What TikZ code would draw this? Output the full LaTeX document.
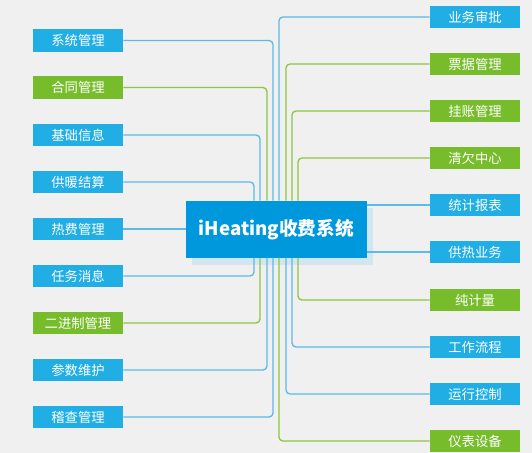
\documentclass[tikz,border=0pt]{standalone}
\usepackage{fontspec}
\setmainfont{Noto Sans CJK SC}
\usetikzlibrary{shadows}
\definecolor{bgc}{HTML}{F0F0F0}
\definecolor{boxb}{HTML}{20AEE5}
\definecolor{boxg}{HTML}{76BC2B}
\definecolor{lineb}{HTML}{5BBAE6}
\definecolor{lineg}{HTML}{8DC63F}
\definecolor{hubc}{HTML}{0098DC}
\definecolor{shadc}{HTML}{D2E6EF}
\tikzset{
	mod/.style={minimum width=67.5pt, minimum height=17pt, inner sep=0pt, text=white, font=\fontsize{10}{12}\selectfont},
	bmod/.style={mod, fill=boxb},
	gmod/.style={mod, fill=boxg},
	bl/.style={draw=lineb, line width=1pt, rounded corners=3pt},
	gl/.style={draw=lineg, line width=1pt, rounded corners=3pt},
}
\begin{document}
\begin{tikzpicture}[x=0.75pt, y=-0.75pt]
		\fill[bgc] (0,0) rectangle (532,453);
		\useasboundingbox (0,0) rectangle (532,453);

		\node[fill=hubc, text=white, minimum width=135.5pt, minimum height=42.5pt, font=\fontsize{14}{16}\bfseries,
			drop shadow={fill=shadc, opacity=1, shadow xshift=4.5pt, shadow yshift=-5.5pt}] (hub) at (276.3,229.3) {iHeating收费系统};

		\node[bmod] (xtgl) at (78,40.5) {系统管理};
		\node[gmod] (htgl) at (78,87.5) {合同管理};
		\node[bmod] (jcxx) at (78,135) {基础信息};
		\node[bmod] (gnjs) at (78,182) {供暖结算};
		\node[bmod] (rfgl) at (78,229) {热费管理};
		\node[bmod] (rwxx) at (78,276) {任务消息};
		\node[gmod] (ejzgl) at (78,323) {二进制管理};
		\node[bmod] (cswh) at (78,370) {参数维护};
		\node[bmod] (jcgl) at (78,417) {稽查管理};

		\node[bmod] (ywsp) at (475,17) {业务审批};
		\node[gmod] (pjgl) at (475,64) {票据管理};
		\node[gmod] (gzgl) at (475,111) {挂账管理};
		\node[gmod] (qqzx) at (475,158) {清欠中心};
		\node[bmod] (tjbb) at (475,205) {统计报表};
		\node[bmod] (gryw) at (475,252) {供热业务};
		\node[gmod] (cjl) at (475,300) {纯计量};
		\node[bmod] (gzlc) at (475,347) {工作流程};
		\node[bmod] (yxkz) at (475,394) {运行控制};
		\node[gmod] (ybsb) at (475,441) {仪表设备};

		\coordinate (c1) at (254,0);
		\coordinate (c2) at (260,0);
		\coordinate (c3) at (267,0);
		\coordinate (c4) at (273,0);
		\coordinate (c5) at (279,0);
		\coordinate (c6) at (286,0);
		\coordinate (c7) at (292,0);
		\coordinate (c8) at (298,0);

		\draw[bl] (xtgl.east) -| (c4 |- hub.north);
		\draw[gl] (htgl.east) -| (c3 |- hub.north);
		\draw[bl] (jcxx.east) -| (c2 |- hub.north);
		\draw[bl] (gnjs.east) -| (c1 |- hub.north);
		\draw[bl] (rfgl.east) -- (rfgl.east -| hub.west);
		\draw[bl] (rwxx.east) -| (c1 |- hub.south);
		\draw[gl] (ejzgl.east) -| (c2 |- hub.south);
		\draw[bl] (cswh.east) -| (c3 |- hub.south);
		\draw[bl] (jcgl.east) -| (c4 |- hub.south);

		\draw[bl] (ywsp.west) -| (c5 |- hub.north);
		\draw[gl] (pjgl.west) -| (c6 |- hub.north);
		\draw[gl] (gzgl.west) -| (c7 |- hub.north);
		\draw[gl] (qqzx.west) -| (c8 |- hub.north);
		\draw[bl] (tjbb.west) -- (tjbb.west -| hub.east);
		\draw[bl] (gryw.west) -- (gryw.west -| hub.east);
		\draw[gl] (cjl.west) -| (c8 |- hub.south);
		\draw[bl] (gzlc.west) -| (c7 |- hub.south);
		\draw[bl] (yxkz.west) -| (c6 |- hub.south);
		\draw[gl] (ybsb.west) -| (c5 |- hub.south);
	\end{tikzpicture}
\end{document}
